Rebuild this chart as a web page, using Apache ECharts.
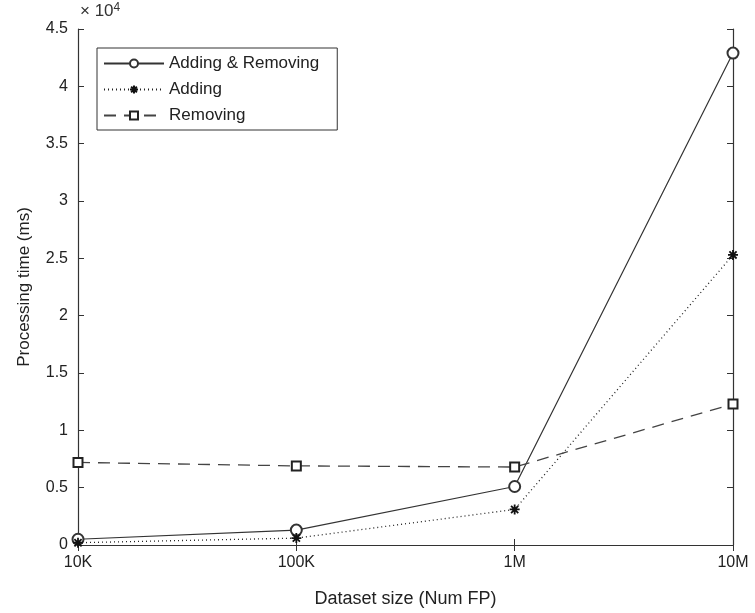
<!DOCTYPE html>
<html><head><meta charset="utf-8">
<script src="https://cdn.jsdelivr.net/npm/echarts@6/dist/echarts.min.js"></script>
<style>html,body{margin:0;padding:0;background:#fff}#c{width:755px;height:613px}</style>
</head><body><div id="c"></div>
<script>
const categories = ['10K', '100K', '1M', '10M'];
const addingRemoving = [500, 1300, 5100, 42900];
const adding = [200, 600, 3100, 25300];
const removing = [7200, 6900, 6800, 12300];
const yTicks = [0, 0.5, 1, 1.5, 2, 2.5, 3, 3.5, 4, 4.5];

const FONT = '"Liberation Sans", Arial, sans-serif';
const AX = '#333';
const chart = echarts.init(document.getElementById('c'), null, {renderer: 'canvas'});
const star = 'path://M0,-5L0,5M-5,0L5,0M-3.6,-3.6L3.6,3.6M-3.6,3.6L3.6,-3.6';

const baseX = {
  type: 'category', data: categories, boundaryGap: false,
  axisLine: {lineStyle: {color: AX, width: 1.2}},
  axisTick: {inside: true, length: 6, lineStyle: {color: AX}},
  splitLine: {show: false}
};
const baseY = {
  type: 'value', min: 0, max: 45000, interval: 5000,
  axisLine: {show: true, lineStyle: {color: AX, width: 1.2}},
  axisTick: {show: true, inside: true, length: 6, lineStyle: {color: AX}},
  splitLine: {show: false}
};

chart.setOption({
  animation: false,
  backgroundColor: '#fff',
  textStyle: {fontFamily: FONT},
  grid: {left: 78, right: 22, top: 29, bottom: 67, containLabel: false},
  xAxis: [
    Object.assign({}, baseX, {position: 'bottom',
      name: 'Dataset size (Num FP)', nameLocation: 'middle', nameGap: 45,
      nameTextStyle: {fontSize: 18, color: '#222', fontFamily: FONT},
      axisLabel: {fontSize: 16, color: '#222', margin: 10, fontFamily: FONT}}),
    Object.assign({}, baseX, {position: 'top', axisLabel: {show: false}})
  ],
  yAxis: [
    Object.assign({}, baseY, {position: 'left',
      name: 'Processing time (ms)', nameLocation: 'middle', nameGap: 45,
      nameTextStyle: {fontSize: 17, color: '#222', fontFamily: FONT},
      axisLabel: {fontSize: 16, color: '#222', margin: 10, fontFamily: FONT,
        formatter: v => { const t = v / 10000; return yTicks.includes(t) ? String(t) : ''; }}}),
    Object.assign({}, baseY, {position: 'right', axisLabel: {show: false}})
  ],
  legend: {
    left: 97, top: 48, orient: 'vertical',
    itemWidth: 60, itemHeight: 10, itemGap: 9,
    padding: [7, 18, 6, 6],
    borderColor: '#333', borderWidth: 1, backgroundColor: '#fff',
    textStyle: {fontSize: 17, color: '#222', fontFamily: FONT},
    data: ['Adding & Removing', 'Adding', 'Removing']
  },
  graphic: [{
    type: 'text', left: 80, top: 2,
    style: {text: '× 10{s|4}', fontSize: 17, fill: '#333', fontFamily: FONT,
      rich: {s: {fontSize: 12, verticalAlign: 'top', fill: '#333', padding: [0,0,7,0]}}}
  }],
  series: [
    {name: 'Adding & Removing', type: 'line', data: addingRemoving,
      symbol: 'emptyCircle', symbolSize: 11,
      lineStyle: {color: '#333', width: 1.2, type: 'solid'},
      itemStyle: {color: '#333', borderColor: '#333', borderWidth: 1.2}},
    {name: 'Adding', type: 'line', data: adding,
      symbol: star, symbolSize: 10,
      lineStyle: {color: '#222', width: 1.3, type: [1, 3]},
      itemStyle: {color: '#111', borderColor: '#111', borderWidth: 1.8}},
    {name: 'Removing', type: 'line', data: removing,
      symbol: 'emptyRect', symbolSize: 9,
      lineStyle: {color: '#444', width: 1.3, type: [12, 8]},
      itemStyle: {color: '#222', borderColor: '#222', borderWidth: 1.3}}
  ]
});
</script></body></html>
